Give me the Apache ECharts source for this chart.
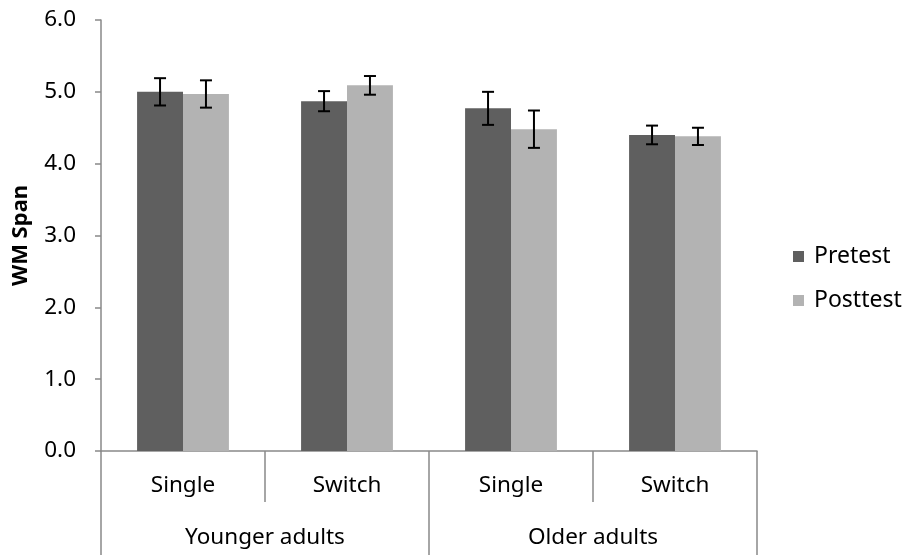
<!DOCTYPE html>
<html>
<head>
<meta charset="utf-8">
<script src="https://cdn.jsdelivr.net/npm/echarts@6/dist/echarts.min.js"></script>
<style>
  html, body { margin: 0; padding: 0; background: #fff; }
  #chart { width: 906px; height: 555px; }
</style>
</head>
<body>
<div id="chart"></div>
<script>
// Conditions (inner axis level) and age groups (outer axis level)
const conditions = ['Single', 'Switch', 'Single', 'Switch'];
const groups = ['Younger adults', 'Older adults'];
const seriesNames = ['Pretest', 'Posttest'];

// Mean WM span per condition
const pretestMeans = [5.00, 4.87, 4.77, 4.40];
const posttestMeans = [4.97, 5.09, 4.48, 4.38];

// Error bar half-widths (standard error)
const pretestErr = [0.19, 0.14, 0.23, 0.13];
const posttestErr = [0.19, 0.13, 0.26, 0.12];

const yTicks = [0, 1, 2, 3, 4, 5, 6];

const FONT = '"Noto Sans", "Open Sans", sans-serif';
const AXIS_GRAY = '#898989';
const PRE_COLOR = '#5f5f5f';
const POST_COLOR = '#b3b3b3';

// Bars take 56% of each category band, split evenly between the two series
const BAR_SHARE = 0.56;

function errorBarRenderer(means, errs, side) {
  return function (params, api) {
    const idx = params.dataIndex;
    const band = api.size([1, 0])[0];
    const barW = band * BAR_SHARE / 2;
    const center = api.coord([idx, means[idx]]);
    const x = center[0] + side * barW / 2;
    const top = api.coord([idx, means[idx] + errs[idx]])[1];
    const bottom = api.coord([idx, means[idx] - errs[idx]])[1];
    const cap = 6;
    const style = { stroke: '#000', lineWidth: 2 };
    return {
      type: 'group',
      children: [
        { type: 'line', shape: { x1: x, y1: top, x2: x, y2: bottom }, style },
        { type: 'line', shape: { x1: x - cap, y1: top, x2: x + cap, y2: top }, style },
        { type: 'line', shape: { x1: x - cap, y1: bottom, x2: x + cap, y2: bottom }, style }
      ]
    };
  };
}

const chart = echarts.init(document.getElementById('chart'), null, { renderer: 'canvas' });

chart.setOption({
  animation: false,
  backgroundColor: '#fff',
  textStyle: { fontFamily: FONT },
  grid: { left: 101, right: 149, top: 20, bottom: 104, containLabel: false },
  legend: {
    orient: 'vertical',
    left: 788,
    top: 240,
    itemWidth: 11,
    itemHeight: 11,
    itemGap: 21,
    icon: 'rect',
    data: seriesNames,
    textStyle: { fontFamily: FONT, fontSize: 23, color: '#000', padding: [0, 0, 0, 5] }
  },
  xAxis: [
    {
      type: 'category',
      position: 'bottom',
      data: conditions,
      axisLine: { show: true, lineStyle: { color: AXIS_GRAY, width: 1.5 } },
      axisTick: { show: true, interval: 0, length: 51, lineStyle: { color: AXIS_GRAY, width: 1.5 } },
      axisLabel: { interval: 0, margin: 23, fontFamily: FONT, fontSize: 22.5, color: '#000' },
      splitLine: { show: false }
    },
    {
      type: 'category',
      position: 'bottom',
      data: groups,
      axisLine: { show: false },
      axisTick: { show: true, interval: 0, length: 104, lineStyle: { color: AXIS_GRAY, width: 1.5 } },
      axisLabel: { interval: 0, margin: 75, fontFamily: FONT, fontSize: 22.5, color: '#000' },
      splitLine: { show: false }
    }
  ],
  yAxis: {
    type: 'value',
    min: yTicks[0],
    max: yTicks[yTicks.length - 1],
    interval: 1,
    name: 'WM Span',
    nameLocation: 'middle',
    nameGap: 69,
    nameRotate: 90,
    nameTextStyle: { fontFamily: FONT, fontSize: 22, fontWeight: 'bold', color: '#000' },
    axisLine: { show: true, lineStyle: { color: AXIS_GRAY, width: 1.5 } },
    axisTick: { show: true, length: 6, lineStyle: { color: AXIS_GRAY, width: 1.5 } },
    axisLabel: {
      margin: 25,
      fontFamily: FONT,
      fontSize: 22.5,
      color: '#000',
      formatter: v => v.toFixed(1)
    },
    splitLine: { show: false }
  },
  series: [
    {
      name: seriesNames[0],
      type: 'bar',
      xAxisIndex: 0,
      data: pretestMeans,
      barGap: '0%',
      barCategoryGap: ((1 - BAR_SHARE) * 100) + '%',
      itemStyle: { color: PRE_COLOR },
      z: 2
    },
    {
      name: seriesNames[1],
      type: 'bar',
      xAxisIndex: 0,
      data: posttestMeans,
      barGap: '0%',
      barCategoryGap: ((1 - BAR_SHARE) * 100) + '%',
      itemStyle: { color: POST_COLOR },
      z: 2
    },
    {
      type: 'custom',
      xAxisIndex: 0,
      renderItem: errorBarRenderer(pretestMeans, pretestErr, -1),
      data: pretestMeans.map((v, i) => [i, v + pretestErr[i], v - pretestErr[i]]),
      encode: { x: 0, y: [1, 2] },
      z: 5,
      silent: true
    },
    {
      type: 'custom',
      xAxisIndex: 0,
      renderItem: errorBarRenderer(posttestMeans, posttestErr, 1),
      data: posttestMeans.map((v, i) => [i, v + posttestErr[i], v - posttestErr[i]]),
      encode: { x: 0, y: [1, 2] },
      z: 5,
      silent: true
    }
  ]
});
</script>
</body>
</html>
